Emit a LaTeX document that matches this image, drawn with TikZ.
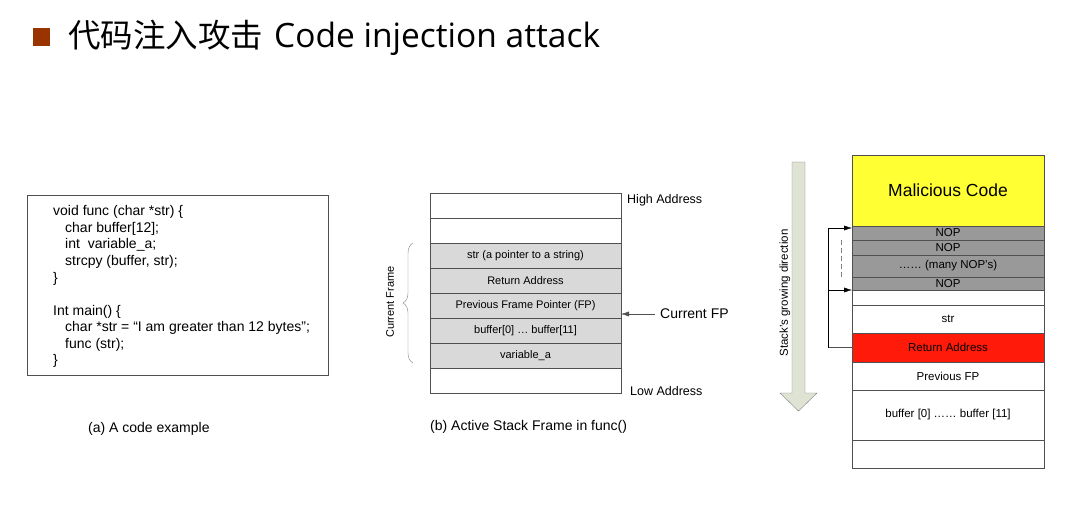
\documentclass[tikz,border=0pt]{standalone}
\usepackage{fontspec}
\setmainfont{Liberation Sans}
\newfontfamily\cjkfont{Noto Sans CJK SC}
\newfontfamily\titlefont{Open Sans}
\usetikzlibrary{decorations.pathreplacing,arrows.meta}

\definecolor{titlebrown}{HTML}{993300}
\definecolor{framegray}{HTML}{D9D9D9}
\definecolor{nopgray}{HTML}{999999}
\definecolor{retred}{HTML}{FF1A0A}
\definecolor{codeyellow}{HTML}{FFFF33}
\definecolor{growgreen}{HTML}{DFE3D3}
\definecolor{linegray}{HTML}{505050}

\tikzset{
  cell/.style={draw=linegray, inner sep=0pt, outer sep=0pt, anchor=north west},
  framecell/.style={cell, minimum width=191, minimum height=25, font=\fontsize{11}{13}\selectfont},
  attackcell/.style={cell, minimum width=192, font=\fontsize{11.5}{13}\selectfont},
  txt/.style={inner sep=0pt, font=\fontsize{#1}{#1}\selectfont},
  arr/.style={-{Latex[length=8pt,width=5pt]}},
}

\begin{document}
\begin{tikzpicture}[x=1pt, y=-1pt]
	\useasboundingbox (0,0) rectangle (1075,510);
	% title
	\fill[titlebrown] (33,28) rectangle (50,46);
	\node[anchor=base west, inner sep=0pt] (title) at (68,48)
		{{\cjkfont\fontsize{32.5}{36}\selectfont 代码注入攻击}\hspace*{11pt}{\titlefont\fontsize{33.5}{36}\selectfont Code injection attack}};

	% (a) code
	\node[draw=linegray, minimum width=301, minimum height=180, anchor=north west] (codebox) at (27,195) {};
	\node[anchor=north west, inner sep=0pt, align=left, font=\fontsize{14}{16.56}\selectfont] (code) at (53,205.5) {%
		void func (char *str) \{\\
		\hspace*{12pt}char buffer[12];\\
		\hspace*{12pt}int\ \ variable\_a;\\
		\hspace*{12pt}strcpy (buffer, str);\\
		\}\\[16.56pt]
		Int main() \{\\
		\hspace*{12pt}char *str = “I am greater than 12 bytes";\\
		\hspace*{12pt}func (str);\\
		\}};
	\node[txt=14, anchor=west] (capa) at (88,429) {(a) A code example};

	% (b) active stack frame
	\foreach \i/\txt/\fc in {1//white, 2//white, 3/str (a pointer to a string)/framegray,
		4/Return Address/framegray, 5/Previous Frame Pointer (FP)/framegray,
		6/buffer[0] … buffer[11]/framegray, 7/variable\_a/framegray, 8//white}
		\node[framecell, fill=\fc] (b\i) at (430,{193+25*(\i-1)}) {\txt};
	\node[txt=12.5, anchor=west] (high) at (627,200) {High Address};
	\node[txt=12.5, anchor=west] (low) at (630,391) {Low Address};
	\node[txt=14, anchor=west] (curfp) at (660,314) {Current FP};
	\draw[arr, linegray] ([xshift=-5pt]curfp.west) -- (curfp.west -| b5.east);
	\draw[gray, decorate, decoration={brace, amplitude=10pt}]
		([xshift=-17pt, yshift=5pt]b7.south west) -- ([xshift=-17pt]b3.north west);
	\node[txt=11, rotate=90] (curframe) at (390,302) {Current Frame};
	\node[txt=14, anchor=west] (capb) at (430,427) {(b) Active Stack Frame in func()};

	% attack stack
	\draw[draw=gray, fill=growgreen] (792,162) -- (805,162) -- (805,393) -- (817,393)
		-- (798.5,411) -- (780,393) -- (792,393) -- cycle;
	\node[txt=11.5, rotate=90] (grow) at (785,293) {Stack’s growing direction};
	\foreach \i/\t/\h/\fc/\txt in {1/155/71/codeyellow/{\fontsize{17.5}{20}\selectfont Malicious Code},
		2/226/14/nopgray/NOP, 3/240/15/nopgray/NOP, 4/255/22/nopgray/…… (many NOP’s),
		5/277/13/nopgray/NOP, 6/290/15/white/, 7/305/28/white/str,
		8/333/29/retred/Return Address, 9/362/28/white/Previous FP,
		10/390/50/white/buffer [0] …… buffer [11], 11/440/28/white/}
		\node[attackcell, fill=\fc, minimum height=\h] (r\i) at (852,\t) {\txt};
	\draw[linegray] (r8.west) -- ++(-24,0) coordinate (turn);
	\draw[arr] (turn) |- ([yshift=-2pt]r2.north west);
	\draw[arr] (turn |- r5.south west) -- (r5.south west);
	\draw[gray, thick, dash pattern=on 5pt off 3pt] ([xshift=-11pt]r3.north west) -- ([xshift=-11pt]r4.south west);
\end{tikzpicture}
\end{document}
